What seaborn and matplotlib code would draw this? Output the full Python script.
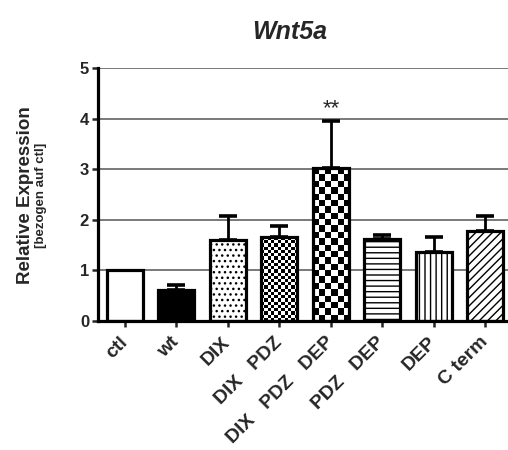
import numpy as np
import matplotlib
matplotlib.use("Agg")
import matplotlib.pyplot as plt
import seaborn as sns

labels = ["ctl", "wt", "DIX", "DIX   PDZ", "DIX   PDZ   DEP", "PDZ   DEP", "DEP", "C term"]
values = [1.0, 0.62, 1.60, 1.66, 3.02, 1.63, 1.37, 1.78]
errors = [0.0, 0.09, 0.47, 0.22, 0.93, 0.07, 0.29, 0.29]
fills = ["white", "black", "white", "checker_small", "checker_big", "white", "white", "white"]
hatches = [None, None, "...", None, None, "---", "|||", "////"]

sns.set_style("white")
plt.rcParams["font.family"] = ["Liberation Sans", "DejaVu Sans"]
plt.rcParams["font.weight"] = "bold"
plt.rcParams["hatch.linewidth"] = 1.0

fig = plt.figure(figsize=(5.08, 4.5), dpi=100)
ax = fig.add_axes([0.193, 0.2867, 0.807, 0.5622])

sns.barplot(x=labels, y=values, color="white", edgecolor="black",
            linewidth=2.3, width=0.7, ax=ax, zorder=2)

xlim = (-0.52, 7.44)
ylim = (0, 5)
ax.set_xlim(*xlim)
ax.set_ylim(*ylim)

for p, f, h in zip(ax.patches, fills, hatches):
    p.set_edgecolor("black")
    if f == "black":
        p.set_facecolor("black")
    elif f.startswith("checker"):
        p.set_facecolor("none")
        cell = 6.5 if f == "checker_big" else 3.2
        x0, w, hgt = p.get_x(), p.get_width(), p.get_height()
        (px0, py0), (px1, py1) = ax.transData.transform([(x0, 0), (x0 + w, hgt)])
        nc = max(1, int(round((px1 - px0) / cell)))
        nr = max(1, int(round((py1 - py0) / cell)))
        ii, jj = np.indices((nr, nc))
        img = ax.imshow((ii + jj) % 2, cmap="gray_r", origin="lower",
                        extent=(x0, x0 + w, 0, hgt), aspect="auto",
                        interpolation="nearest", zorder=1.5)
        img.set_clip_path(p)
    else:
        p.set_facecolor("white")
    if h:
        p.set_hatch(h)

ax.set_xlim(*xlim)
ax.set_ylim(*ylim)

idx = [i for i, e in enumerate(errors) if e > 0]
ax.errorbar(x=idx, y=[values[i] for i in idx],
            yerr=[np.zeros(len(idx)), [errors[i] for i in idx]],
            fmt="none", ecolor="black", elinewidth=2.0, capsize=6.5,
            capthick=2.6, zorder=3)

ax.text(4, values[4] + errors[4] + 0.24, "**", ha="center", va="center",
        fontsize=16, fontweight="normal")

ax.set_axisbelow(True)
ax.yaxis.grid(True, color="#555555", linewidth=1.1)
ax.xaxis.grid(False)
ax.set_yticks([0, 1, 2, 3, 4, 5])
for s in ["top", "right"]:
    ax.spines[s].set_visible(False)
for s in ["left", "bottom"]:
    ax.spines[s].set_linewidth(2.3)
    ax.spines[s].set_color("black")

ax.tick_params(axis="y", direction="out", length=4.5, width=1.8, labelsize=12, pad=2, left=True)
ax.tick_params(axis="x", direction="out", length=4.5, width=1.8, labelsize=14, pad=9, bottom=True)
for t in ax.get_yticklabels():
    t.set_fontweight("bold")
ax.set_xticks(range(len(labels)))
ax.set_xticklabels(labels, rotation=45, ha="right", va="center",
                   rotation_mode="anchor", fontweight="bold")
ax.set_xlabel("")
ax.set_ylabel("")

fig.text(290 / 508, 1 - 32 / 450, "Wnt5a", ha="center", va="center",
         fontsize=18, fontweight="bold", fontstyle="italic")
fig.text(26 / 508, 1 - 195 / 450, "Relative Expression", rotation=90,
         ha="center", va="center", fontsize=13.5, fontweight="bold")
fig.text(41 / 508, 1 - 195 / 450, "[bezogen auf ctl]", rotation=90,
         ha="center", va="center", fontsize=9.5, fontweight="bold")

fig.savefig("out.png", dpi=100)
